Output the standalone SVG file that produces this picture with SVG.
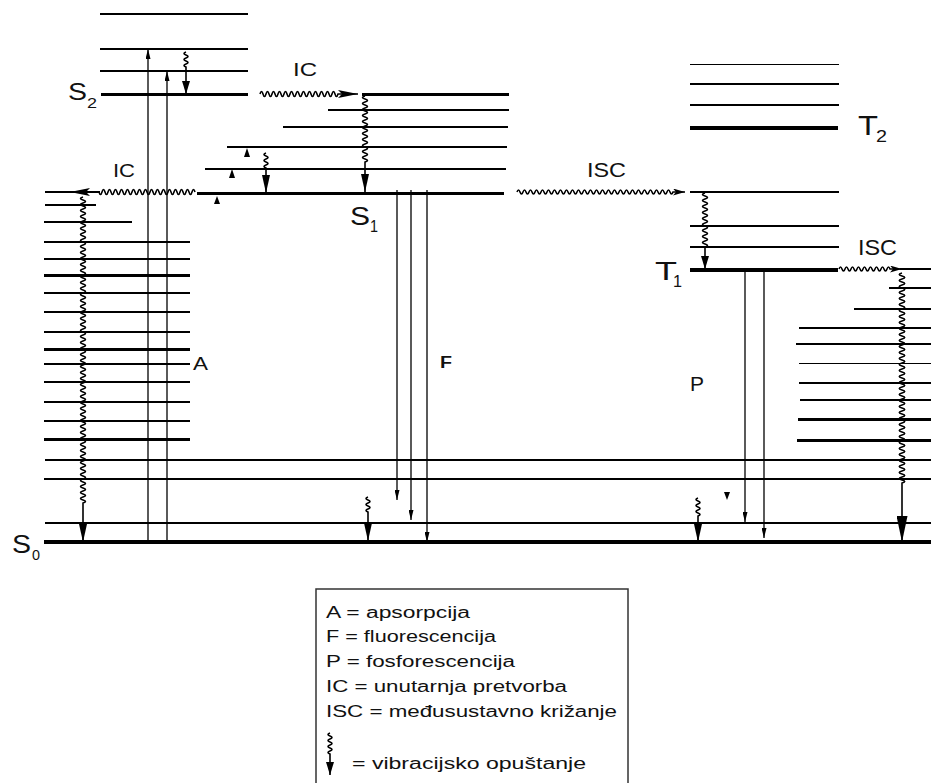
<svg xmlns="http://www.w3.org/2000/svg" width="931" height="783" viewBox="0 0 931 783">
<style>
  .lv { stroke:#000; fill:none; shape-rendering:crispEdges; }
  .t1 { stroke-width:1.2; }
  .t2 { stroke-width:2; }
  .t3 { stroke-width:3; }
  .t4 { stroke-width:4; }
  .cn { stroke:#000; fill:none; stroke-width:1.3; }
  .wv { stroke:#000; fill:none; stroke-width:1.6; }
  .lb { font-family:"Liberation Sans", Arial, sans-serif; fill:#111; }
  .lg { font-family:"Liberation Sans", Arial, sans-serif; font-size:16px; fill:#111; }
  .hd { fill:#000; }
</style>
<defs>
  <marker id="vr" viewBox="0 0 18 8" refX="18" refY="4" markerWidth="18" markerHeight="8" markerUnits="userSpaceOnUse" orient="auto"><path d="M0,0 L18,4 L0,8 z" fill="#000"/></marker>
  <marker id="vrs" viewBox="0 0 13 8" refX="13" refY="4" markerWidth="13" markerHeight="8" markerUnits="userSpaceOnUse" orient="auto"><path d="M0,0 L13,4 L0,8 z" fill="#000"/></marker>
  <marker id="vrl" viewBox="0 0 26 11" refX="26" refY="5.5" markerWidth="26" markerHeight="11" markerUnits="userSpaceOnUse" orient="auto"><path d="M0,0 L26,5.5 L0,11 z" fill="#000"/></marker>
  <marker id="ic" viewBox="0 0 20 8" refX="20" refY="4" markerWidth="20" markerHeight="8" markerUnits="userSpaceOnUse" orient="auto"><path d="M0,0 L20,4 L0,8 L4,4 z" fill="#000"/></marker>
  <marker id="isc" viewBox="0 0 12 7" refX="12" refY="3.5" markerWidth="12" markerHeight="7" markerUnits="userSpaceOnUse" orient="auto"><path d="M0,0 L12,3.5 L0,7 L3,3.5 z" fill="#000"/></marker>
  <marker id="abs" viewBox="0 0 10 5" refX="10" refY="2.5" markerWidth="10" markerHeight="5" markerUnits="userSpaceOnUse" orient="auto"><path d="M0,0 L10,2.5 L0,5 z" fill="#000"/></marker>
</defs>
<rect width="931" height="783" fill="#fff"/>

<g id="S2">
  <line class="lv t1" x1="100" y1="14" x2="248" y2="14"/>
  <line class="lv t1" x1="100" y1="49" x2="248" y2="49"/>
  <line class="lv t2" x1="100" y1="71" x2="248" y2="71"/>
  <line class="lv t3" x1="101" y1="94" x2="248" y2="94"/>
  <text class="lb" x="68" y="100" font-size="23" textLength="19" lengthAdjust="spacingAndGlyphs">S</text>
  <text class="lb" x="87" y="108" font-size="15" textLength="10" lengthAdjust="spacingAndGlyphs">2</text>
</g>

<g id="S1">
  <line class="lv t3" x1="362" y1="94" x2="509" y2="94"/>
  <line class="lv t1" x1="328" y1="110" x2="509" y2="110"/>
  <line class="lv t2" x1="283" y1="127" x2="508" y2="127"/>
  <line class="lv t1" x1="227" y1="147" x2="507" y2="147"/>
  <line class="lv t2" x1="205" y1="169" x2="506" y2="169"/>
  <line class="lv t3" x1="197" y1="193" x2="504" y2="193"/>
  <text class="lb" x="350" y="225" font-size="26" textLength="20" lengthAdjust="spacingAndGlyphs">S</text>
  <text class="lb" x="370" y="232" font-size="17" textLength="8" lengthAdjust="spacingAndGlyphs">1</text>
</g>

<g id="T2">
  <line class="lv" stroke-width="1" x1="690" y1="64" x2="839" y2="64"/>
  <line class="lv t1" x1="690" y1="84" x2="839" y2="84"/>
  <line class="lv t1" x1="690" y1="105" x2="839" y2="105"/>
  <line class="lv t4" x1="690" y1="128" x2="838" y2="128"/>
  <text class="lb" x="858" y="135" font-size="27" textLength="20" lengthAdjust="spacingAndGlyphs">T</text>
  <text class="lb" x="876" y="142" font-size="17" textLength="11" lengthAdjust="spacingAndGlyphs">2</text>
</g>

<g id="T1">
  <line class="lv t1" x1="690" y1="192" x2="839" y2="192"/>
  <line class="lv t1" x1="690" y1="226" x2="839" y2="226"/>
  <line class="lv t1" x1="690" y1="247" x2="839" y2="247"/>
  <line class="lv t4" x1="690" y1="270" x2="838" y2="270"/>
  <text class="lb" x="655" y="280" font-size="25" textLength="22" lengthAdjust="spacingAndGlyphs">T</text>
  <text class="lb" x="673" y="287" font-size="17" textLength="9" lengthAdjust="spacingAndGlyphs">1</text>
</g>

<g id="S0">
  <line class="lv t1" x1="45" y1="192" x2="100" y2="192"/>
  <line class="lv t2" x1="45" y1="205" x2="96" y2="205"/>
  <line class="lv t1" x1="44" y1="222" x2="132" y2="222"/>
  <line class="lv t1" x1="44" y1="242" x2="190" y2="242"/>
  <line class="lv t1" x1="44" y1="259" x2="190" y2="259"/>
  <line class="lv t3" x1="44" y1="275" x2="190" y2="275"/>
  <line class="lv t1" x1="44" y1="293" x2="190" y2="293"/>
  <line class="lv t1" x1="44" y1="312" x2="190" y2="312"/>
  <line class="lv t1" x1="44" y1="332" x2="190" y2="332"/>
  <line class="lv t3" x1="44" y1="349" x2="190" y2="349"/>
  <line class="lv t1" x1="44" y1="364" x2="190" y2="364"/>
  <line class="lv t1" x1="44" y1="382" x2="190" y2="382"/>
  <line class="lv t1" x1="44" y1="402" x2="190" y2="402"/>
  <line class="lv t1" x1="44" y1="421" x2="190" y2="421"/>
  <line class="lv t3" x1="44" y1="439" x2="190" y2="439"/>
  <line class="lv t1" x1="45" y1="460" x2="931" y2="460"/>
  <line class="lv t1" x1="44" y1="479" x2="931" y2="479"/>
  <line class="lv t1" x1="45" y1="523" x2="931" y2="523"/>
  <line class="lv t4" x1="44" y1="542" x2="931" y2="542"/>
  <line class="lv t1" x1="900" y1="269" x2="931" y2="269"/>
  <line class="lv t1" x1="889" y1="288" x2="931" y2="288"/>
  <line class="lv t1" x1="854" y1="309" x2="931" y2="309"/>
  <line class="lv t1" x1="799" y1="328" x2="931" y2="328"/>
  <line class="lv" stroke-width="2" x1="796" y1="344" x2="931" y2="344"/>
  <line class="lv" stroke-width="1" x1="799" y1="363" x2="931" y2="363"/>
  <line class="lv" stroke-width="2" x1="799" y1="383" x2="931" y2="383"/>
  <line class="lv" stroke-width="2" x1="800" y1="400" x2="931" y2="400"/>
  <line class="lv t3" x1="798" y1="419" x2="931" y2="419"/>
  <line class="lv t3" x1="797" y1="440" x2="931" y2="440"/>
  <text class="lb" x="12" y="553" font-size="26" textLength="19" lengthAdjust="spacingAndGlyphs">S</text>
  <text class="lb" x="32" y="560" font-size="15" textLength="8" lengthAdjust="spacingAndGlyphs">0</text>
</g>

<g id="connectors">
  <!-- absorption -->
  <path class="cn" d="M148,542 L148,49" marker-end="url(#abs)"/>
  <path class="cn" d="M167,542 L167,71" marker-end="url(#abs)"/>
  <polygon class="hd" points="247,148 244,157 250,157"/>
  <polygon class="hd" points="232,169 229,178 235,178"/>
  <polygon class="hd" points="217,196 214,204 220,204"/>
  <!-- fluorescence -->
  <path class="cn" d="M397,190 L397,500" marker-end="url(#abs)"/>
  <path class="cn" d="M411,190 L411,520" marker-end="url(#abs)"/>
  <path class="cn" stroke-width="2" d="M427,190 L427,542" marker-end="url(#abs)"/>
  <!-- phosphorescence -->
  <path class="cn" d="M745,270 L745,522" marker-end="url(#abs)"/>
  <path class="cn" d="M764,270 L764,538" marker-end="url(#abs)"/>
  <polygon class="hd" points="724,492 730,492 727,500"/>
  <!-- internal conversion -->
  <path class="wv" stroke-width="2" d="M260,94 q1.5,-5 3,0 t3,0 3,0 3,0 3,0 3,0 3,0 3,0 3,0 3,0 3,0 3,0 3,0 3,0 3,0 3,0 3,0 3,0 3,0 3,0 3,0 3,0 3,0 3,0 3,0 3,0 L358,94" marker-end="url(#ic)"/>
  <path class="wv" stroke-width="2" d="M195,192 q-1.5,-5 -3,0 t-3,0 -3,0 -3,0 -3,0 -3,0 -3,0 -3,0 -3,0 -3,0 -3,0 -3,0 -3,0 -3,0 -3,0 -3,0 -3,0 -3,0 -3,0 -3,0 -3,0 -3,0 -3,0 -3,0 -3,0 -3,0 -3,0 -3,0 -3,0 -3,0 -3,0 -3,0 L70,192" marker-end="url(#ic)"/>
  <!-- intersystem crossing -->
  <path class="wv" stroke-width="1.5" d="M517,192 q1.5,-4 3,0 t3,0 3,0 3,0 3,0 3,0 3,0 3,0 3,0 3,0 3,0 3,0 3,0 3,0 3,0 3,0 3,0 3,0 3,0 3,0 3,0 3,0 3,0 3,0 3,0 3,0 3,0 3,0 3,0 3,0 3,0 3,0 3,0 3,0 3,0 3,0 3,0 3,0 3,0 3,0 3,0 3,0 3,0 3,0 3,0 3,0 3,0 3,0 3,0 3,0 3,0 3,0 L685,192" marker-end="url(#isc)"/>
  <path class="wv" stroke-width="1.8" d="M839,269 q1.5,-4 3,0 t3,0 3,0 3,0 3,0 3,0 3,0 3,0 3,0 3,0 3,0 3,0 3,0 3,0 3,0 3,0 3,0 L902,269" marker-end="url(#isc)"/>
  <!-- vibrational relaxation -->
  <path class="wv" stroke-width="1.3" d="M186,52 q-4,1.5 0,3 t0,3 0,3 0,3 0,3 L186,94" marker-end="url(#vrs)"/>
  <path class="wv" stroke-width="1.8" d="M365,96 q-5,1.5 0,3 t0,3 0,3 0,3 0,3 0,3 0,3 0,3 0,3 0,3 0,3 0,3 0,3 0,3 0,3 0,3 0,3 0,3 0,3 0,3 0,3 0,3 L365,192" marker-end="url(#vr)"/>
  <path class="wv" stroke-width="1.3" d="M266,153 q-4,1.5 0,3 t0,3 0,3 0,3 0,3 L266,193" marker-end="url(#vr)"/>
  <path class="wv" stroke-width="1.5" d="M83,197 q-5,1.5 0,3 t0,3 0,3 0,3 0,3 0,3 0,3 0,3 0,3 0,3 0,3 0,3 0,3 0,3 0,3 0,3 0,3 0,3 0,3 0,3 0,3 0,3 0,3 0,3 0,3 0,3 0,3 0,3 0,3 0,3 0,3 0,3 0,3 0,3 0,3 0,3 0,3 0,3 0,3 0,3 0,3 0,3 0,3 0,3 0,3 0,3 0,3 0,3 0,3 0,3 0,3 0,3 0,3 0,3 0,3 0,3 0,3 0,3 0,3 0,3 0,3 0,3 0,3 0,3 0,3 0,3 0,3 0,3 0,3 0,3 0,3 0,3 0,3 0,3 0,3 0,3 0,3 0,3 0,3 0,3 0,3 0,3 0,3 0,3 0,3 0,3 0,3 0,3 0,3 0,3 0,3 0,3 0,3 0,3 0,3 0,3 0,3 0,3 0,3 0,3 0,3 0,3 L83,542" marker-end="url(#vr)"/>
  <path class="wv" stroke-width="1.3" d="M368,497 q-4,1.5 0,3 t0,3 0,3 0,3 0,3 L368,541" marker-end="url(#vr)"/>
  <path class="wv" stroke-width="1.5" d="M705,193 q-5,1.5 0,3 t0,3 0,3 0,3 0,3 0,3 0,3 0,3 0,3 0,3 0,3 0,3 0,3 0,3 0,3 0,3 0,3 0,3 L705,269" marker-end="url(#vrs)"/>
  <path class="wv" stroke-width="2.2" d="M902,273 q-5.5,1.5 0,3 t0,3 0,3 0,3 0,3 0,3 0,3 0,3 0,3 0,3 0,3 0,3 0,3 0,3 0,3 0,3 0,3 0,3 0,3 0,3 0,3 0,3 0,3 0,3 0,3 0,3 0,3 0,3 0,3 0,3 0,3 0,3 0,3 0,3 0,3 0,3 0,3 0,3 0,3 0,3 0,3 0,3 0,3 0,3 0,3 0,3 0,3 0,3 0,3 0,3 0,3 0,3 0,3 0,3 0,3 0,3 0,3 0,3 0,3 0,3 0,3 0,3 0,3 0,3 0,3 0,3 0,3 0,3 0,3 0,3 L902,542" marker-end="url(#vrl)"/>
  <path class="wv" stroke-width="1.3" d="M698,498 q-4,1.5 0,3 t0,3 0,3 0,3 0,3 0,3 L698,542" marker-end="url(#vr)"/>
</g>

<g id="labels">
  <text class="lb" x="293" y="76" font-size="19" textLength="24" lengthAdjust="spacingAndGlyphs">IC</text>
  <text class="lb" x="113" y="177" font-size="19" textLength="22" lengthAdjust="spacingAndGlyphs">IC</text>
  <text class="lb" x="587" y="177" font-size="20" textLength="39" lengthAdjust="spacingAndGlyphs">ISC</text>
  <text class="lb" x="858" y="255" font-size="22" textLength="39" lengthAdjust="spacingAndGlyphs">ISC</text>
  <text class="lb" x="193" y="370" font-size="18" textLength="15" lengthAdjust="spacingAndGlyphs">A</text>
  <text class="lb" x="440" y="368" font-size="16" font-weight="bold" textLength="12" lengthAdjust="spacingAndGlyphs">F</text>
  <text class="lb" x="690" y="391" font-size="21" textLength="14" lengthAdjust="spacingAndGlyphs">P</text>
</g>

<g id="legend">
  <rect x="316" y="589" width="312" height="210" fill="#fff" stroke="#333" stroke-width="1.5"/>
  <text class="lg" x="326" y="618" textLength="144" lengthAdjust="spacingAndGlyphs">A = apsorpcija</text>
  <text class="lg" x="326" y="642" textLength="170" lengthAdjust="spacingAndGlyphs">F = fluorescencija</text>
  <text class="lg" x="326" y="667" textLength="189" lengthAdjust="spacingAndGlyphs">P = fosforescencija</text>
  <text class="lg" x="326" y="692" textLength="241" lengthAdjust="spacingAndGlyphs">IC = unutarnja pretvorba</text>
  <text class="lg" x="326" y="717" textLength="291" lengthAdjust="spacingAndGlyphs">ISC = međusustavno križanje</text>
  <path class="wv" stroke-width="1.3" d="M330,733 q-4,1.5 0,3 t0,3 0,3 0,3 0,3 0,3 0,3 L330,775" marker-end="url(#vrs)"/>
  <text class="lg" x="352" y="769" textLength="234" lengthAdjust="spacingAndGlyphs">= vibracijsko opuštanje</text>
</g>
</svg>
